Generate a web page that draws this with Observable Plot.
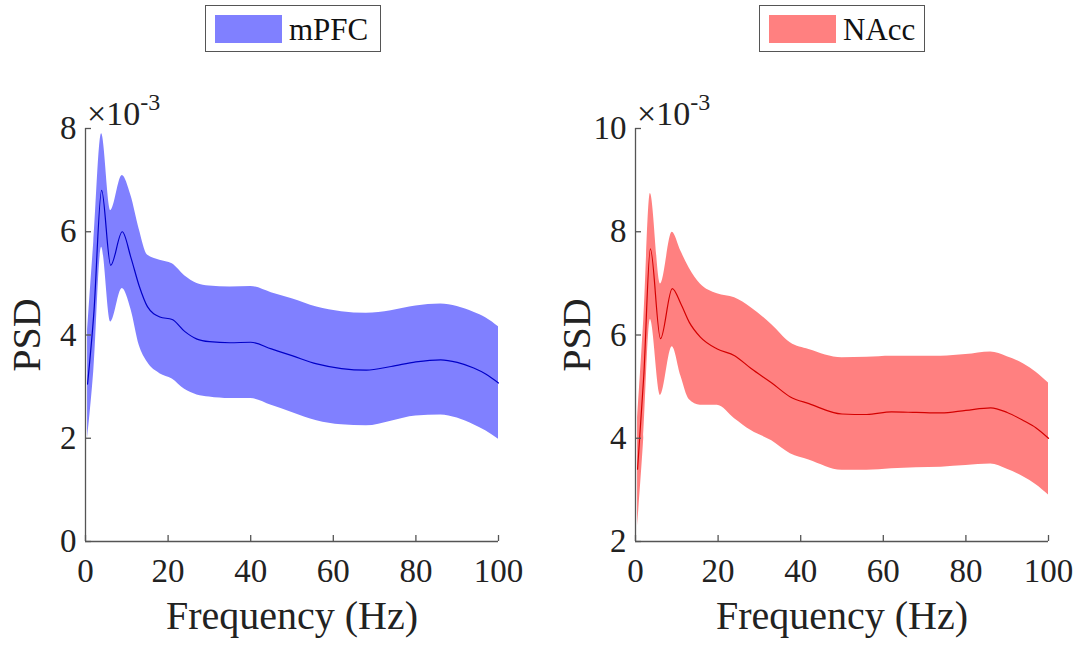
<!DOCTYPE html>
<html>
<head>
<meta charset="utf-8">
<script src="https://cdn.jsdelivr.net/npm/d3@7"></script>
<script src="https://cdn.jsdelivr.net/npm/@observablehq/plot@0.6"></script>
<style>
  html, body { margin: 0; padding: 0; background: #fff; }
  #wrap { position: relative; width: 1080px; height: 645px; overflow: hidden; font-family: "Liberation Serif", serif; color: #111; }
  #wrap svg text { font-family: "Liberation Serif", serif !important; }
  .panel { position: absolute; top: 0; }
  .legend { position: absolute; border: 1.3px solid #555; background: #fff; box-sizing: border-box; }
  .legend .sw { position: absolute; }
  .legend .lt { position: absolute; font-family: "Liberation Serif", serif; font-size: 31px; line-height: 1; color: #111; }
  .exp { position: absolute; font-family: "Liberation Serif", serif; font-size: 34px; line-height: 1; color: #222; white-space: nowrap; }
  .exp sup { font-size: 24px; position: relative; top: -3px; }
  g[aria-label="x-axis label"], g[aria-label="y-axis label"] { font-size: 40px; }
</style>
</head>
<body>
<div id="wrap"></div>
<script>
// ---- data (PSD in units of 1e-3) ----
const regions = ["mPFC", "NAcc"];

const freqMPFC = [0.5, 2, 3.9, 6.1, 8.9, 11, 13, 15, 18, 21, 24, 27, 30, 35, 40, 45, 50, 56, 62, 68, 74, 80, 86, 90, 94, 97, 100];
const meanMPFC = [3.05, 4.4, 6.8, 5.35, 6.0, 5.5, 4.95, 4.55, 4.35, 4.3, 4.07, 3.92, 3.87, 3.85, 3.86, 3.73, 3.6, 3.44, 3.35, 3.32, 3.39, 3.48, 3.52, 3.47, 3.36, 3.24, 3.07];
const upperMPFC = [4.1, 5.8, 7.9, 6.41, 7.09, 6.7, 6.05, 5.55, 5.45, 5.38, 5.15, 5.0, 4.95, 4.93, 4.94, 4.82, 4.7, 4.54, 4.45, 4.42, 4.47, 4.56, 4.6, 4.55, 4.44, 4.33, 4.16];
const lowerMPFC = [2.0, 3.3, 5.7, 4.25, 4.9, 4.5, 3.8, 3.47, 3.25, 3.15, 2.95, 2.84, 2.8, 2.77, 2.77, 2.64, 2.5, 2.34, 2.26, 2.24, 2.33, 2.43, 2.45, 2.39, 2.26, 2.14, 1.98];

const freqNAcc = [0.5, 2, 3.6, 6.05, 8.9, 11, 13, 15.7, 19.8, 24, 28, 33, 37.5, 42, 50, 56, 62, 68, 74, 80, 86, 90, 94, 97, 100];
const meanNAcc = [3.4, 5.2, 7.67, 5.93, 6.9, 6.6, 6.25, 5.96, 5.73, 5.6, 5.35, 5.07, 4.8, 4.67, 4.47, 4.46, 4.51, 4.5, 4.49, 4.54, 4.59, 4.5, 4.34, 4.2, 4.0];
const upperNAcc = [4.4, 6.3, 8.74, 6.99, 7.99, 7.62, 7.3, 6.99, 6.8, 6.72, 6.53, 6.2, 5.85, 5.72, 5.56, 5.57, 5.59, 5.59, 5.59, 5.62, 5.67, 5.58, 5.44, 5.28, 5.07];
const lowerNAcc = [2.3, 4.0, 6.3, 4.83, 5.77, 5.2, 4.75, 4.64, 4.64, 4.38, 4.15, 3.95, 3.7, 3.58, 3.38, 3.38, 3.41, 3.43, 3.44, 3.47, 3.5, 3.4, 3.25, 3.1, 2.9];

const xTicks = [0, 20, 40, 60, 80, 100];
const yTicksMPFC = [0, 2, 4, 6, 8];
const yTicksNAcc = [2, 4, 6, 8, 10];

// ---- chart ----
const wrap = document.getElementById("wrap");
const axisColor = "#555";

function panel({left, freq, mean, upper, lower, yDomain, yTicks, fill, lineColor, name, legend}) {
  const data = freq.map((f, i) => ({f, m: mean[i], u: upper[i], l: lower[i]}));
  const chart = Plot.plot({
    width: 540, height: 645,
    marginLeft: 85, marginRight: 42, marginTop: 128, marginBottom: 104,
    style: {fontFamily: "'Liberation Serif', serif", fontSize: "33px", color: "#222", background: "transparent"},
    x: {domain: [0, 100]},
    y: {domain: yDomain},
    marks: [
      Plot.areaY(data, {x: "f", y1: "l", y2: "u", fill, fillOpacity: 1, curve: "monotone-x"}),
      Plot.line(data, {x: "f", y: "m", stroke: lineColor, strokeWidth: 1.2, curve: "monotone-x"}),
      Plot.ruleX([0], {stroke: axisColor, strokeWidth: 1.3}),
      Plot.ruleY([yDomain[0]], {stroke: axisColor, strokeWidth: 1.3}),
      Plot.axisX(xTicks, {tickSize: -6, tickPadding: 23, tickFormat: d => String(d), stroke: axisColor, strokeWidth: 1.3,
        label: "Frequency (Hz)", labelAnchor: "center", labelArrow: "none", labelOffset: 87}),
      Plot.axisY(yTicks, {tickSize: -6, tickPadding: 15, tickFormat: d => String(d), stroke: axisColor, strokeWidth: 1.3,
        label: "PSD", labelAnchor: "center", labelArrow: "none", labelOffset: 74})
    ]
  });
  chart.classList.add("panel");
  chart.style.left = left + "px";
  wrap.appendChild(chart);

  const exp = document.createElement("div");
  exp.className = "exp";
  exp.style.left = (left + 87) + "px";
  exp.style.top = "93px";
  exp.innerHTML = "×10<sup>-3</sup>";
  wrap.appendChild(exp);

  const lg = document.createElement("div");
  lg.className = "legend";
  lg.style.left = legend.x + "px"; lg.style.top = "5px";
  lg.style.width = legend.w + "px"; lg.style.height = "47px";
  const sw = document.createElement("div");
  sw.className = "sw";
  sw.style.left = "9px"; sw.style.top = "9px"; sw.style.width = "67px"; sw.style.height = "28px";
  sw.style.background = fill;
  lg.appendChild(sw);
  const t = document.createElement("div");
  t.className = "lt";
  t.style.left = "83px"; t.style.top = "8px";
  t.textContent = name;
  lg.appendChild(t);
  wrap.appendChild(lg);
}

panel({left: 0, freq: freqMPFC, mean: meanMPFC, upper: upperMPFC, lower: lowerMPFC,
  yDomain: [0, 8], yTicks: yTicksMPFC, fill: "#8080ff", lineColor: "#0000c8", name: regions[0],
  legend: {x: 205, w: 176}});
panel({left: 550, freq: freqNAcc, mean: meanNAcc, upper: upperNAcc, lower: lowerNAcc,
  yDomain: [2, 10], yTicks: yTicksNAcc, fill: "#ff8080", lineColor: "#d40000", name: regions[1],
  legend: {x: 759, w: 166}});
</script>
</body>
</html>
